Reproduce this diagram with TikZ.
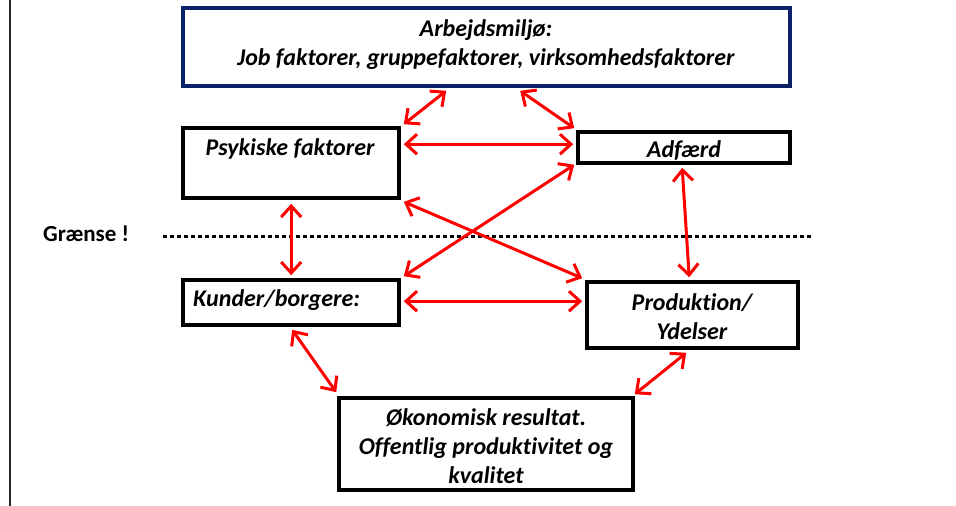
\documentclass[tikz,border=0pt]{standalone}
\usepackage{fontspec}
\setmainfont{Carlito}[Ligatures=NoCommon]
\usetikzlibrary{arrows.meta,calc}
\definecolor{navy}{HTML}{0B2266}
\definecolor{arrred}{HTML}{FF0000}
\begin{document}
\begin{tikzpicture}[x=1pt,y=-1pt,
  boxstyle/.style={draw=black,line width=3.6pt,inner sep=0pt},
  txt/.style={font=\fontsize{24}{29}\selectfont\bfseries\itshape,align=center,inner sep=0pt},
  link/.style={draw=arrred,line width=3pt,{Straight Barb[length=11pt,width=20pt,line width=3pt]}-{Straight Barb[length=11pt,width=20pt,line width=3pt]}}
]
\useasboundingbox (0,0) rectangle (956,506);
\draw[line width=2pt,black!85] (10,0) -- (10,506);
% boxes
\node[boxstyle,draw=navy,minimum width=607pt,minimum height=78pt] (top) at (486.5,47) {};
\node[boxstyle,minimum width=216pt,minimum height=70pt] (psy) at (291,163) {};
\node[boxstyle,minimum width=212pt,minimum height=31pt] (adf) at (684,147.5) {};
\node[boxstyle,minimum width=216pt,minimum height=45pt] (kun) at (291,302.5) {};
\node[boxstyle,minimum width=211pt,minimum height=66pt] (pro) at (692.5,315) {};
\node[boxstyle,minimum width=294pt,minimum height=92pt] (oko) at (486,444) {};
% texts
\node[txt] (ttop) at (486,45) {Arbejdsmiljø:\\Job faktorer, gruppefaktorer, virksomhedsfaktorer};
\node[txt,anchor=base] (tpsy) at (290,155) {Psykiske faktorer};
\node[txt,anchor=base] (tadf) at (684,157) {Adfærd};
\node[txt,anchor=base west] (tkun) at (193,306) {Kunder/borgere:};
\node[txt] (tpro) at (692,316.5) {Produktion/\\Ydelser};
\node[txt] (toko) at (486,446.5) {Økonomisk resultat.\\Offentlig produktivitet og\\kvalitet};
% boundary
\node[font=\fontsize{23}{26}\selectfont\bfseries,anchor=base west,inner sep=0pt] (gr) at (43,241) {Grænse !};
\coordinate (dl) at (163,236);
\coordinate (dr) at (812,236);
\draw[line width=3pt,dash pattern=on 3.5pt off 3.5pt] (dl) -- (dr);
% arrows
\draw[link] ($(top.south west)+(265,3)$) -- ($(psy.north east)+(3,-2)$);
\draw[link] ($(top.south west)+(339,3)$) -- ($(adf.north west)+(-2,-2)$);
\draw[link] ($(psy.north east)+(3,18)$) -- ($(adf.north west)+(-3,14)$);
\draw[link] ($(psy.south east)+(3,2)$) -- ($(pro.north west)+(-3,-2)$);
\draw[link] ($(adf.south west)+(-2,0)$) -- ($(kun.north east)+(3,-2)$);
\draw[link] ($(psy.south west)+(110,4)$) -- ($(kun.north west)+(110,-3)$);
\draw[link] ($(adf.south west)+(106,3)$) -- ($(pro.north west)+(104,-3)$);
\draw[link] ($(kun.north east)+(3,23)$) -- ($(pro.north west)+(-3,21)$);
\draw[link] ($(kun.south west)+(111,3)$) -- ($(oko.north west)+(-1,-4)$);
\draw[link] ($(pro.south west)+(101,3)$) -- ($(oko.north east)+(0,-2)$);
\end{tikzpicture}
\end{document}
